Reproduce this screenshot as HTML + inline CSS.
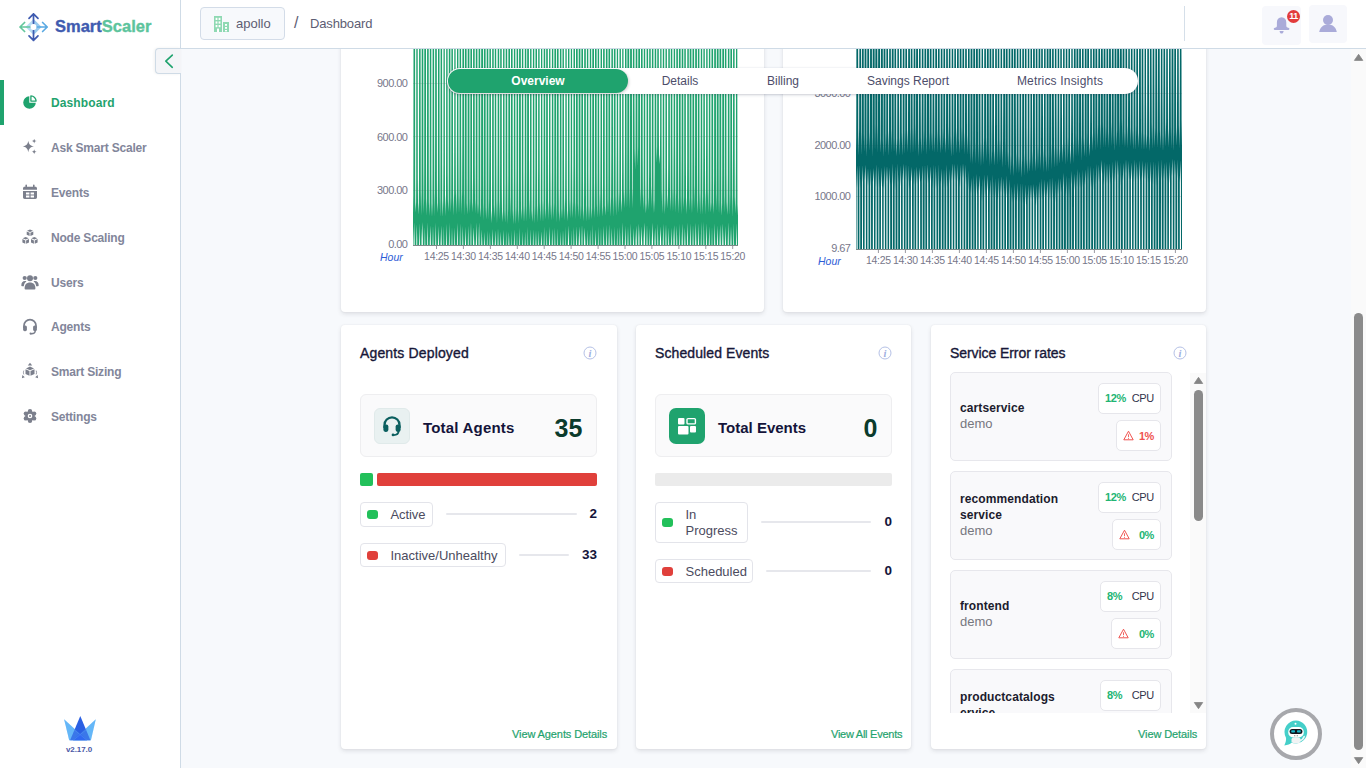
<!DOCTYPE html>
<html lang="en">
<head>
<meta charset="utf-8">
<title>SmartScaler Dashboard</title>
<style>
*{box-sizing:border-box;margin:0;padding:0}
html,body{width:1366px;height:768px;overflow:hidden}
body{position:relative;background:#f7f9fc;font-family:"Liberation Sans",sans-serif;color:#1a1a3a;font-size:13px}
.abs{position:absolute}
.t{position:absolute;white-space:nowrap;line-height:1}
/* sidebar */
#side{position:absolute;left:0;top:0;width:181px;height:768px;background:#fff;border-right:1px solid #cfdbe6;z-index:5}
#hdr{position:absolute;left:181px;top:0;width:1185px;height:49px;background:#fff;border-bottom:1px solid #cfdbe6;z-index:6}
.nav{position:absolute;left:51px;font-size:12px;font-weight:bold;color:#82869a;white-space:nowrap;line-height:16px;letter-spacing:-.2px}
.nav.act{color:#1fa36e}
.card{position:absolute;background:#fff;border-radius:4px;box-shadow:0 2px 4px rgba(50,50,60,.13),0 0 2px rgba(50,50,60,.07)}
.ttl{position:absolute;font-size:14px;color:#171738;-webkit-text-stroke:.35px #171738;white-space:nowrap;line-height:16px;letter-spacing:.1px}
.lnk{position:absolute;font-size:11px;color:#1fa36e;-webkit-text-stroke:.2px #1fa36e;white-space:nowrap;line-height:12px}
.ylab{position:absolute;font-size:11px;letter-spacing:-.55px;color:#77778a;text-align:right;width:60px;line-height:12px;white-space:nowrap}
.xlab{position:absolute;font-size:10.500px;color:#77778a;text-align:center;width:40px;line-height:12px;white-space:nowrap;letter-spacing:-.3px}
.hour{position:absolute;font-size:10.5px;font-style:italic;color:#2c5bd6;line-height:12px}

.tab{top:75px;font-size:12px;text-align:center;color:#4d4d6a;z-index:4}
.tbox{position:absolute;width:237px;height:63px;background:#fafafb;border:1px solid #eeeef0;border-radius:6px}
.pill{position:absolute;height:24px;border:1px solid #e3e4ea;border-radius:4px;background:#fff}
.pill i{position:absolute;left:6px;top:6.500px;width:11px;height:9px;border-radius:3px}
.pill span{position:absolute;left:29.500px;top:5px;font-size:13px;line-height:13px;color:#4b4b5e;white-space:nowrap}
.ln{position:absolute;height:2px;background:#e6e7ec;border-radius:1px}
.val{position:absolute;width:40px;text-align:right;font-size:13.500px;font-weight:bold;color:#14143a;line-height:16px}

.si{position:absolute;left:0;width:222px;height:89px;background:#f9f9fb;border:1px solid #e7e7ec;border-radius:5px}
.sn{position:absolute;left:9px;font-size:12px;font-weight:bold;color:#1c1c2e;line-height:14px;white-space:nowrap;letter-spacing:.1px}
.sd{position:absolute;left:9px;font-size:13px;color:#77777f;line-height:14px}
.bd{position:absolute;height:31px;background:#fff;border:1px solid #e6e6eb;border-radius:5px}
.bd b,.bd span{position:absolute;top:8px;font-size:11px;line-height:12px;letter-spacing:-.4px}
.bd span{color:#33334a;letter-spacing:-.3px}
.bd b.g{color:#22b573}
</style>
</head>
<body>

<!-- MAIN -->
<div id="main">
  <!-- chart cards -->
  <div class="card" id="c1" style="left:341px;top:-10px;width:423px;height:322px"></div>
  <div class="card" id="c2" style="left:783px;top:-10px;width:423px;height:322px"></div>
  <!-- bottom cards -->
  <div class="card" id="c3" style="left:341px;top:325px;width:276px;height:424px"></div>
  <div class="card" id="c4" style="left:635.830px;top:325px;width:275.330px;height:424px"></div>
  <div class="card" id="c5" style="left:930.670px;top:325px;width:275.330px;height:424px"></div>
  <!--CHART1-->
<svg class="abs" style="left:0;top:0" width="1366" height="330" viewBox="0 0 1366 330">
<defs><clipPath id="cp1"><rect x="413" y="48" width="325" height="197"/></clipPath></defs>
<line x1="413" x2="738" y1="83.5" y2="83.5" stroke="#e9e9ec" stroke-width="1"/>
<line x1="413" x2="738" y1="136.5" y2="136.5" stroke="#e9e9ec" stroke-width="1"/>
<line x1="413" x2="738" y1="190.5" y2="190.5" stroke="#e9e9ec" stroke-width="1"/>
<g clip-path="url(#cp1)">
<polygon points="410.0,43.0 412.5,43.0 412.6,152.8 412.7,194.8 413.0,213.9 413.3,194.8 413.4,152.8 413.5,43.0 415.1,43.0 415.2,178.7 415.3,201.8 415.7,212.3 416.1,201.8 416.2,178.7 416.3,43.0 417.7,43.0 417.8,177.0 418.0,202.8 418.4,214.5 418.8,202.8 419.0,177.0 419.1,43.0 420.6,43.0 420.7,139.7 420.8,191.8 421.1,215.5 421.5,191.8 421.6,139.7 421.7,43.0 423.3,43.0 423.4,167.0 423.6,198.5 423.8,212.9 424.1,198.5 424.2,167.0 424.3,43.0 426.0,43.0 426.1,159.3 426.2,198.2 426.5,215.8 426.9,198.2 427.0,159.3 427.1,43.0 428.7,43.0 428.8,170.0 428.9,201.7 429.2,216.1 429.6,201.7 429.7,170.0 429.8,43.0 431.3,43.0 431.4,173.8 431.6,203.3 432.0,216.8 432.4,203.3 432.5,173.8 432.6,43.0 434.1,43.0 434.2,140.5 434.4,192.7 434.7,216.4 435.0,192.7 435.1,140.5 435.2,43.0 436.8,43.0 436.9,179.2 437.0,202.4 437.4,212.9 437.7,202.4 437.9,179.2 438.0,43.0 439.5,43.0 439.6,154.1 439.8,197.5 440.1,217.3 440.4,197.5 440.5,154.1 440.6,43.0 442.1,43.0 442.2,163.8 442.3,200.4 442.8,217.0 443.2,200.4 443.4,163.8 443.5,43.0 444.8,43.0 444.9,147.1 445.0,194.4 445.5,215.9 446.0,194.4 446.1,147.1 446.2,43.0 447.6,43.0 447.7,172.6 447.9,199.8 448.2,212.1 448.6,199.8 448.7,172.6 448.8,43.0 450.4,43.0 450.5,163.3 450.6,197.3 450.9,212.8 451.2,197.3 451.3,163.3 451.4,43.0 452.9,43.0 453.0,146.6 453.2,193.8 453.6,215.3 454.1,193.8 454.2,146.6 454.3,43.0 455.6,43.0 455.7,139.2 455.9,190.7 456.3,214.2 456.8,190.7 456.9,139.2 457.0,43.0 458.4,43.0 458.5,155.0 458.7,195.2 459.0,213.4 459.4,195.2 459.5,155.0 459.6,43.0 461.1,43.0 461.2,139.5 461.4,190.9 461.8,214.2 462.1,190.9 462.3,139.5 462.4,43.0 464.0,43.0 464.1,143.8 464.2,193.5 464.5,216.1 464.7,193.5 464.8,143.8 464.9,43.0 466.6,43.0 466.7,177.7 466.8,202.9 467.2,214.4 467.5,202.9 467.6,177.7 467.7,43.0 469.4,43.0 469.5,166.0 469.6,198.5 469.9,213.3 470.2,198.5 470.3,166.0 470.4,43.0 472.0,43.0 472.1,179.5 472.3,202.3 472.6,212.6 472.9,202.3 473.0,179.5 473.1,43.0 474.7,43.0 474.8,165.2 475.0,198.4 475.3,213.5 475.6,198.4 475.7,165.2 475.8,43.0 477.4,43.0 477.5,178.9 477.6,203.6 478.0,214.8 478.4,203.6 478.5,178.9 478.6,43.0 480.2,43.0 480.3,185.0 480.4,207.7 480.7,218.0 481.0,207.7 481.1,185.0 481.2,43.0 483.0,43.0 483.1,164.7 483.2,203.0 483.4,220.4 483.7,203.0 483.8,164.7 483.9,43.0 485.6,43.0 485.7,180.1 485.8,207.3 486.1,219.6 486.5,207.3 486.6,180.1 486.7,43.0 488.3,43.0 488.4,151.7 488.5,198.7 488.8,220.1 489.1,198.7 489.3,151.7 489.4,43.0 490.9,43.0 491.0,180.9 491.1,209.9 491.5,223.0 492.0,209.9 492.1,180.9 492.2,43.0 493.7,43.0 493.8,174.7 493.9,204.7 494.2,218.3 494.6,204.7 494.7,174.7 494.8,43.0 496.2,43.0 496.3,149.0 496.5,200.5 497.0,223.8 497.4,200.5 497.6,149.0 497.7,43.0 499.2,43.0 499.3,159.5 499.4,200.7 499.7,219.4 500.0,200.7 500.1,159.5 500.2,43.0 501.7,43.0 501.8,186.4 502.0,211.0 502.4,222.2 502.8,211.0 503.0,186.4 503.1,43.0 504.5,43.0 504.6,182.8 504.7,210.3 505.1,222.8 505.4,210.3 505.6,182.8 505.7,43.0 507.2,43.0 507.3,174.2 507.5,208.6 507.8,224.2 508.1,208.6 508.3,174.2 508.4,43.0 510.0,43.0 510.1,146.6 510.2,196.5 510.5,219.2 510.8,196.5 510.9,146.6 511.0,43.0 512.6,43.0 512.7,176.6 512.8,209.4 513.2,224.3 513.6,209.4 513.8,176.6 513.9,43.0 515.3,43.0 515.4,168.7 515.5,207.0 515.9,224.3 516.3,207.0 516.5,168.7 516.6,43.0 518.1,43.0 518.2,180.2 518.3,210.0 518.6,223.5 518.9,210.0 519.0,180.2 519.1,43.0 520.8,43.0 520.9,182.3 521.0,208.3 521.3,220.1 521.7,208.3 521.8,182.3 521.9,43.0 523.3,43.0 523.4,171.3 523.6,206.2 524.0,222.1 524.5,206.2 524.7,171.3 524.8,43.0 526.3,43.0 526.4,170.1 526.5,205.6 526.8,221.8 527.0,205.6 527.1,170.1 527.2,43.0 528.9,43.0 529.0,155.3 529.1,199.6 529.5,219.7 529.8,199.6 530.0,155.3 530.1,43.0 531.5,43.0 531.6,185.3 531.7,210.6 532.2,222.1 532.6,210.6 532.8,185.3 532.9,43.0 534.3,43.0 534.4,166.3 534.5,205.6 534.9,223.4 535.2,205.6 535.4,166.3 535.5,43.0 537.0,43.0 537.1,167.6 537.2,205.3 537.6,222.5 537.9,205.3 538.1,167.6 538.2,43.0 539.6,43.0 539.7,158.4 539.8,202.0 540.3,221.7 540.7,202.0 540.9,158.4 541.0,43.0 542.3,43.0 542.4,152.6 542.5,200.5 543.0,222.3 543.5,200.5 543.6,152.6 543.7,43.0 545.2,43.0 545.3,184.1 545.4,208.4 545.7,219.4 546.0,208.4 546.1,184.1 546.2,43.0 547.8,43.0 547.9,158.3 548.0,200.7 548.4,219.9 548.8,200.7 549.0,158.3 549.1,43.0 550.4,43.0 550.5,170.3 550.7,204.6 551.1,220.1 551.6,204.6 551.8,170.3 551.9,43.0 553.3,43.0 553.4,164.5 553.5,202.4 553.8,219.6 554.2,202.4 554.3,164.5 554.4,43.0 556.1,43.0 556.2,166.0 556.3,205.1 556.5,222.8 556.8,205.1 556.9,166.0 557.0,43.0 558.6,43.0 558.7,187.2 558.9,211.2 559.2,222.1 559.6,211.2 559.8,187.2 559.9,43.0 561.4,43.0 561.5,185.0 561.6,208.3 562.0,218.8 562.3,208.3 562.4,185.0 562.5,43.0 563.9,43.0 564.0,151.9 564.2,199.1 564.7,220.6 565.1,199.1 565.3,151.9 565.4,43.0 566.7,43.0 566.8,185.3 567.0,210.1 567.4,221.3 567.8,210.1 567.9,185.3 568.0,43.0 569.4,43.0 569.5,157.7 569.6,199.3 570.1,218.2 570.5,199.3 570.7,157.7 570.8,43.0 572.1,43.0 572.2,165.6 572.4,201.6 572.8,218.0 573.2,201.6 573.4,165.6 573.5,43.0 575.0,43.0 575.1,163.4 575.2,201.6 575.5,219.0 575.8,201.6 575.9,163.4 576.0,43.0 577.7,43.0 577.8,171.6 577.9,203.2 578.2,217.6 578.5,203.2 578.6,171.6 578.7,43.0 580.4,43.0 580.5,172.6 580.6,205.2 580.9,220.1 581.2,205.2 581.3,172.6 581.4,43.0 583.0,43.0 583.1,180.9 583.3,208.7 583.6,221.3 584.0,208.7 584.1,180.9 584.2,43.0 585.8,43.0 585.9,167.5 586.0,204.8 586.3,221.7 586.7,204.8 586.8,167.5 586.9,43.0 588.3,43.0 588.4,173.4 588.6,206.0 589.0,220.8 589.5,206.0 589.7,173.4 589.8,43.0 591.2,43.0 591.3,184.5 591.4,208.1 591.8,218.9 592.1,208.1 592.2,184.5 592.3,43.0 594.0,43.0 594.1,182.1 594.2,206.7 594.5,217.9 594.7,206.7 594.9,182.1 595.0,43.0 596.6,43.0 596.7,172.7 596.9,203.8 597.2,217.9 597.5,203.8 597.6,172.7 597.7,43.0 599.1,43.0 599.2,142.0 599.4,194.0 599.9,217.6 600.3,194.0 600.5,142.0 600.6,43.0 602.0,43.0 602.1,184.9 602.3,206.9 602.6,217.0 602.9,206.9 603.0,184.9 603.1,43.0 604.7,43.0 604.8,183.1 604.9,205.3 605.3,215.4 605.7,205.3 605.8,183.1 605.9,43.0 607.5,43.0 607.6,167.8 607.7,199.2 608.0,213.5 608.3,199.2 608.4,167.8 608.5,43.0 610.1,43.0 610.2,152.7 610.3,196.7 610.7,216.8 611.1,196.7 611.3,152.7 611.4,43.0 612.9,43.0 613.0,152.8 613.1,197.1 613.4,217.2 613.7,197.1 613.8,152.8 613.9,43.0 615.5,43.0 615.6,150.8 615.7,195.4 616.1,215.7 616.5,195.4 616.7,150.8 616.8,43.0 618.1,43.0 618.2,144.4 618.4,191.2 618.8,212.4 619.3,191.2 619.4,144.4 619.5,43.0 620.9,43.0 621.0,170.2 621.1,199.2 621.5,212.5 621.9,199.2 622.1,170.2 622.2,43.0 623.5,43.0 623.6,150.8 623.8,190.0 624.2,207.9 624.7,190.0 624.9,150.8 625.0,43.0 626.5,43.0 626.6,141.3 626.7,187.9 627.0,209.0 627.2,187.9 627.3,141.3 627.4,43.0 629.2,43.0 629.3,143.9 629.4,188.6 629.7,208.9 629.9,188.6 630.0,143.9 630.1,43.0 631.9,43.0 632.0,143.6 632.1,188.3 632.4,208.7 632.7,188.3 632.8,143.6 632.9,43.0 634.4,43.0 634.5,103.4 634.7,149.0 635.1,169.8 635.5,149.0 635.6,103.4 635.7,43.0 637.3,43.0 637.4,101.3 637.5,146.2 637.8,166.6 638.1,146.2 638.2,101.3 638.3,43.0 640.0,43.0 640.1,145.3 640.2,188.0 640.5,207.4 640.8,188.0 640.9,145.3 641.0,43.0 642.6,43.0 642.7,157.4 642.9,193.8 643.2,210.3 643.6,193.8 643.7,157.4 643.8,43.0 645.2,43.0 645.3,180.5 645.5,203.0 645.9,213.2 646.4,203.0 646.5,180.5 646.6,43.0 648.1,43.0 648.2,168.8 648.3,197.3 648.6,210.2 648.9,197.3 649.1,168.8 649.2,43.0 650.7,43.0 650.8,133.9 651.0,185.2 651.3,208.6 651.7,185.2 651.8,133.9 651.9,43.0 653.4,43.0 653.5,170.8 653.6,200.0 654.0,213.2 654.4,200.0 654.6,170.8 654.7,43.0 656.2,43.0 656.3,110.7 656.4,146.6 656.8,162.9 657.1,146.6 657.2,110.7 657.3,43.0 658.8,43.0 658.9,132.1 659.0,154.2 659.5,164.2 659.9,154.2 660.1,132.1 660.2,43.0 661.5,43.0 661.6,141.2 661.8,191.0 662.2,213.6 662.6,191.0 662.7,141.2 662.8,43.0 664.2,43.0 664.3,165.9 664.5,199.0 664.9,214.1 665.3,199.0 665.4,165.9 665.5,43.0 666.9,43.0 667.0,164.0 667.2,194.8 667.6,208.8 668.0,194.8 668.2,164.0 668.3,43.0 669.8,43.0 669.9,162.6 670.0,196.1 670.3,211.3 670.6,196.1 670.7,162.6 670.8,43.0 672.3,43.0 672.4,137.9 672.6,188.9 673.0,212.1 673.4,188.9 673.6,137.9 673.7,43.0 675.1,43.0 675.2,147.0 675.4,192.2 675.7,212.8 676.1,192.2 676.2,147.0 676.3,43.0 677.9,43.0 678.0,160.8 678.1,197.4 678.4,214.0 678.7,197.4 678.8,160.8 678.9,43.0 680.6,43.0 680.7,153.0 680.8,195.2 681.1,214.4 681.4,195.2 681.6,153.0 681.7,43.0 683.3,43.0 683.4,168.3 683.5,196.7 683.8,209.6 684.1,196.7 684.2,168.3 684.3,43.0 685.8,43.0 685.9,161.9 686.1,197.8 686.5,214.1 687.0,197.8 687.2,161.9 687.3,43.0 688.8,43.0 688.9,168.1 689.0,197.4 689.2,210.8 689.5,197.4 689.6,168.1 689.7,43.0 691.4,43.0 691.5,162.7 691.6,197.5 692.0,213.3 692.3,197.5 692.4,162.7 692.5,43.0 694.1,43.0 694.2,133.9 694.4,185.7 694.7,209.2 695.0,185.7 695.1,133.9 695.2,43.0 696.9,43.0 697.0,170.0 697.1,200.3 697.4,214.1 697.7,200.3 697.8,170.0 697.9,43.0 699.4,43.0 699.5,143.6 699.6,192.5 700.1,214.7 700.5,192.5 700.7,143.6 700.8,43.0 702.2,43.0 702.3,156.3 702.4,196.4 702.8,214.6 703.1,196.4 703.3,156.3 703.4,43.0 704.8,43.0 704.9,138.8 705.1,190.8 705.5,214.4 705.9,190.8 706.1,138.8 706.2,43.0 707.6,43.0 707.7,138.6 707.8,189.6 708.2,212.8 708.6,189.6 708.8,138.6 708.9,43.0 710.3,43.0 710.4,178.8 710.5,202.1 710.9,212.6 711.3,202.1 711.4,178.8 711.5,43.0 713.1,43.0 713.2,176.2 713.3,202.2 713.6,213.9 713.9,202.2 714.1,176.2 714.2,43.0 715.9,43.0 716.0,155.5 716.1,193.6 716.3,211.0 716.6,193.6 716.7,155.5 716.8,43.0 718.6,43.0 718.7,168.6 718.8,199.9 719.0,214.1 719.3,199.9 719.4,168.6 719.5,43.0 721.2,43.0 721.3,173.5 721.4,202.7 721.8,216.0 722.1,202.7 722.2,173.5 722.3,43.0 724.0,43.0 724.1,158.5 724.2,195.8 724.5,212.8 724.7,195.8 724.8,158.5 724.9,43.0 726.4,43.0 726.5,173.0 726.7,202.0 727.2,215.1 727.6,202.0 727.8,173.0 727.9,43.0 729.4,43.0 729.5,147.7 729.6,194.3 729.9,215.5 730.2,194.3 730.3,147.7 730.4,43.0 732.0,43.0 732.1,148.7 732.3,195.9 732.6,217.4 732.9,195.9 733.0,148.7 733.1,43.0 734.6,43.0 734.7,159.3 734.8,196.6 735.3,213.6 735.7,196.6 735.9,159.3 736.0,43.0 737.3,43.0 737.4,177.4 737.5,203.9 738.0,216.0 738.5,203.9 738.6,177.4 738.7,43.0 741.0,43.0 741.0,250.0 739.6,250.0 739.5,248.0 739.1,224.4 738.7,248.0 738.6,250.0 736.9,250.0 736.8,241.3 736.4,223.1 736.0,241.3 735.9,250.0 734.2,250.0 734.1,245.0 733.7,223.4 733.3,245.0 733.2,250.0 731.5,250.0 731.5,242.5 731.0,226.4 730.5,242.5 730.4,250.0 728.8,250.0 728.7,240.4 728.3,222.2 727.8,240.4 727.7,250.0 726.1,250.0 726.0,242.6 725.5,226.0 725.1,242.6 725.0,250.0 723.5,250.0 723.5,244.5 722.8,223.5 722.2,244.5 722.1,250.0 720.8,250.0 720.8,245.2 720.1,224.8 719.5,245.2 719.4,250.0 718.0,250.0 717.9,241.7 717.4,225.5 717.0,241.7 716.9,250.0 715.3,250.0 715.2,244.5 714.7,223.5 714.2,244.5 714.1,250.0 712.5,250.0 712.4,248.0 712.0,226.7 711.6,248.0 711.5,250.0 709.9,250.0 709.8,248.0 709.3,226.3 708.7,248.0 708.7,250.0 707.0,250.0 707.0,239.0 706.6,223.5 706.2,239.0 706.1,250.0 704.4,250.0 704.3,245.3 703.9,222.0 703.4,245.3 703.3,250.0 701.6,250.0 701.5,243.2 701.2,222.1 700.8,243.2 700.7,250.0 699.0,250.0 698.9,241.9 698.5,223.5 698.0,241.9 697.9,250.0 696.3,250.0 696.3,243.1 695.8,222.8 695.2,243.1 695.2,250.0 693.6,250.0 693.5,242.5 693.0,225.1 692.6,242.5 692.5,250.0 690.9,250.0 690.9,246.4 690.3,223.6 689.8,246.4 689.7,250.0 688.1,250.0 688.0,237.7 687.6,222.8 687.2,237.7 687.1,250.0 685.5,250.0 685.4,243.6 684.9,227.4 684.4,243.6 684.3,250.0 682.8,250.0 682.7,241.7 682.2,223.8 681.7,241.7 681.6,250.0 680.0,250.0 679.9,245.5 679.5,224.1 679.1,245.5 679.0,250.0 677.3,250.0 677.2,240.4 676.8,225.9 676.4,240.4 676.3,250.0 674.7,250.0 674.6,239.8 674.1,225.3 673.5,239.8 673.4,250.0 672.1,250.0 671.9,248.0 671.4,227.7 670.8,248.0 670.7,250.0 669.2,250.0 669.1,244.3 668.7,227.6 668.2,244.3 668.2,250.0 666.5,250.0 666.4,239.1 666.0,224.6 665.5,239.1 665.5,250.0 663.8,250.0 663.7,241.7 663.3,223.7 662.8,241.7 662.7,250.0 661.2,250.0 661.1,241.7 660.5,226.5 659.9,241.7 659.9,250.0 658.3,250.0 658.2,241.3 657.8,223.8 657.4,241.3 657.4,250.0 655.7,250.0 655.6,241.6 655.1,227.4 654.6,241.6 654.6,250.0 653.1,250.0 653.0,241.9 652.4,222.8 651.8,241.9 651.7,250.0 650.2,250.0 650.1,247.5 649.7,227.7 649.3,247.5 649.2,250.0 647.7,250.0 647.6,248.0 647.0,224.8 646.4,248.0 646.3,250.0 645.0,250.0 644.9,238.7 644.3,222.7 643.7,238.7 643.6,250.0 642.2,250.0 642.1,243.1 641.6,226.2 641.0,243.1 641.0,250.0 639.5,250.0 639.4,238.0 638.9,223.8 638.4,238.0 638.3,250.0 636.8,250.0 636.7,240.5 636.2,225.7 635.6,240.5 635.5,250.0 634.0,250.0 634.0,245.7 633.5,227.9 633.0,245.7 632.9,250.0 631.2,250.0 631.1,240.2 630.8,223.5 630.4,240.2 630.3,250.0 628.6,250.0 628.5,245.8 628.0,226.5 627.5,245.8 627.5,250.0 625.9,250.0 625.9,246.6 625.3,225.8 624.8,246.6 624.7,250.0 623.1,250.0 623.0,239.8 622.6,222.2 622.2,239.8 622.2,250.0 620.5,250.0 620.4,248.0 619.9,227.0 619.4,248.0 619.3,250.0 617.7,250.0 617.6,246.4 617.2,227.2 616.8,246.4 616.7,250.0 614.9,250.0 614.9,248.0 614.5,226.4 614.1,248.0 614.1,250.0 612.3,250.0 612.3,245.4 611.8,228.1 611.3,245.4 611.2,250.0 609.7,250.0 609.6,243.8 609.1,224.5 608.6,243.8 608.5,250.0 606.8,250.0 606.8,242.9 606.4,224.9 606.0,242.9 605.9,250.0 604.2,250.0 604.2,245.0 603.7,225.9 603.2,245.0 603.1,250.0 601.5,250.0 601.3,248.0 601.0,227.2 600.6,248.0 600.5,250.0 598.7,250.0 598.6,245.3 598.3,226.8 597.9,245.3 597.8,250.0 596.2,250.0 596.1,248.0 595.5,229.2 595.0,248.0 594.9,250.0 593.3,250.0 593.2,246.5 592.8,225.1 592.5,246.5 592.4,250.0 590.8,250.0 590.6,248.0 590.1,229.4 589.6,248.0 589.5,250.0 588.0,250.0 587.9,248.0 587.4,229.5 587.0,248.0 586.9,250.0 585.4,250.0 585.3,242.5 584.7,227.4 584.1,242.5 584.0,250.0 582.5,250.0 582.4,239.0 582.0,224.8 581.6,239.0 581.5,250.0 579.9,250.0 579.9,243.5 579.3,226.6 578.7,243.5 578.6,250.0 577.0,250.0 577.0,241.9 576.6,226.3 576.2,241.9 576.1,250.0 574.5,250.0 574.3,248.0 573.9,227.0 573.4,248.0 573.3,250.0 571.6,250.0 571.5,248.0 571.2,229.9 570.9,248.0 570.7,250.0 569.1,250.0 569.0,243.8 568.5,225.6 567.9,243.8 567.8,250.0 566.2,250.0 566.1,248.0 565.8,226.9 565.4,248.0 565.3,250.0 563.5,250.0 563.5,245.4 563.0,230.1 562.6,245.4 562.5,250.0 561.0,250.0 560.7,248.0 560.3,231.4 559.9,248.0 559.7,250.0 558.1,250.0 558.0,245.6 557.6,228.3 557.3,245.6 557.2,250.0 555.4,250.0 555.3,245.0 554.9,227.8 554.5,245.0 554.4,250.0 552.9,250.0 552.8,248.0 552.2,228.8 551.7,248.0 551.5,250.0 550.2,250.0 550.1,248.0 549.5,226.8 548.9,248.0 548.8,250.0 547.5,250.0 547.2,248.0 546.8,230.0 546.3,248.0 546.1,250.0 544.5,250.0 544.5,245.2 544.1,226.8 543.7,245.2 543.6,250.0 542.1,250.0 542.0,247.9 541.4,231.3 540.7,247.9 540.7,250.0 539.2,250.0 539.1,248.0 538.7,230.2 538.2,248.0 538.1,250.0 536.7,250.0 536.5,248.0 536.0,230.6 535.4,248.0 535.3,250.0 533.7,250.0 533.7,246.1 533.2,229.4 532.8,246.1 532.8,250.0 531.1,250.0 531.0,248.0 530.5,229.3 530.1,248.0 530.0,250.0 528.3,250.0 528.2,248.0 527.8,227.1 527.5,248.0 527.4,250.0 525.7,250.0 525.6,248.0 525.1,231.5 524.7,248.0 524.5,250.0 522.9,250.0 522.8,248.0 522.4,231.5 522.0,248.0 521.9,250.0 520.2,250.0 520.1,247.6 519.7,227.8 519.3,247.6 519.2,250.0 517.6,250.0 517.3,248.0 517.0,231.6 516.7,248.0 516.4,250.0 514.8,250.0 514.7,243.4 514.3,229.3 513.9,243.4 513.8,250.0 512.1,250.0 511.9,248.0 511.6,230.8 511.3,248.0 511.1,250.0 509.5,250.0 509.4,247.4 508.9,231.7 508.3,247.4 508.2,250.0 506.7,250.0 506.5,248.0 506.2,230.7 505.8,248.0 505.6,250.0 504.2,250.0 504.0,248.0 503.5,230.0 502.9,248.0 502.8,250.0 501.4,250.0 501.3,248.0 500.8,231.4 500.2,248.0 500.1,250.0 498.5,250.0 498.5,244.5 498.0,228.2 497.6,244.5 497.6,250.0 496.0,250.0 495.9,248.0 495.3,230.2 494.7,248.0 494.6,250.0 493.2,250.0 493.1,243.4 492.6,229.1 492.2,243.4 492.1,250.0 490.6,250.0 490.4,248.0 489.9,231.9 489.5,248.0 489.2,250.0 487.8,250.0 487.6,248.0 487.2,230.6 486.8,248.0 486.6,250.0 485.2,250.0 485.0,248.0 484.5,231.9 484.0,248.0 483.8,250.0 482.4,250.0 482.3,245.0 481.8,229.5 481.3,245.0 481.2,250.0 479.6,250.0 479.5,239.3 479.1,222.6 478.6,239.3 478.6,250.0 477.1,250.0 477.0,246.7 476.4,222.7 475.8,246.7 475.7,250.0 474.3,250.0 474.2,242.7 473.7,227.2 473.1,242.7 473.1,250.0 471.4,250.0 471.3,237.8 471.0,222.3 470.6,237.8 470.5,250.0 468.7,250.0 468.6,240.5 468.2,225.8 467.9,240.5 467.8,250.0 466.2,250.0 466.1,248.0 465.5,226.7 464.9,248.0 464.9,250.0 463.4,250.0 463.3,246.3 462.8,226.1 462.3,246.3 462.3,250.0 460.6,250.0 460.5,241.8 460.1,223.6 459.8,241.8 459.7,250.0 457.9,250.0 457.8,239.2 457.4,222.9 457.0,239.2 456.9,250.0 455.2,250.0 455.1,245.3 454.7,227.2 454.3,245.3 454.2,250.0 452.4,250.0 452.4,245.7 452.0,227.2 451.6,245.7 451.6,250.0 449.7,250.0 449.7,244.4 449.3,222.7 448.9,244.4 448.8,250.0 447.1,250.0 447.0,244.4 446.6,223.7 446.1,244.4 446.0,250.0 444.3,250.0 444.2,247.0 443.9,226.0 443.5,247.0 443.4,250.0 441.8,250.0 441.7,244.1 441.2,225.6 440.6,244.1 440.6,250.0 439.1,250.0 439.0,245.7 438.5,226.0 437.9,245.7 437.8,250.0 436.3,250.0 436.2,244.3 435.8,222.7 435.3,244.3 435.2,250.0 433.6,250.0 433.5,248.0 433.0,225.4 432.5,248.0 432.5,250.0 430.9,250.0 430.8,242.5 430.3,225.5 429.8,242.5 429.8,250.0 428.1,250.0 428.0,238.4 427.6,222.4 427.3,238.4 427.2,250.0 425.4,250.0 425.3,246.7 424.9,226.9 424.5,246.7 424.4,250.0 422.9,250.0 422.8,239.2 422.2,222.3 421.6,239.2 421.5,250.0 420.1,250.0 420.0,246.8 419.5,223.3 419.0,246.8 418.9,250.0 417.2,250.0 417.2,239.5 416.8,224.6 416.4,239.5 416.3,250.0 414.7,250.0 414.6,240.1 414.1,222.4 413.6,240.1 413.5,250.0 410.0,250.0" fill="#1fa36e"/>
</g>
<line x1="413" x2="738" y1="83.5" y2="83.5" stroke="#333" stroke-opacity=".03" stroke-width="1"/>
<line x1="413" x2="738" y1="136.5" y2="136.5" stroke="#333" stroke-opacity=".03" stroke-width="1"/>
<line x1="413" x2="738" y1="190.5" y2="190.5" stroke="#333" stroke-opacity=".03" stroke-width="1"/>
<line x1="413" x2="738" y1="245.5" y2="245.5" stroke="#7f8a8a" stroke-width="1"/>
<line x1="436.5" x2="436.5" y1="246" y2="249" stroke="#9a9aa2" stroke-width="1"/>
<line x1="463.4" x2="463.4" y1="246" y2="249" stroke="#9a9aa2" stroke-width="1"/>
<line x1="490.4" x2="490.4" y1="246" y2="249" stroke="#9a9aa2" stroke-width="1"/>
<line x1="517.3" x2="517.3" y1="246" y2="249" stroke="#9a9aa2" stroke-width="1"/>
<line x1="544.2" x2="544.2" y1="246" y2="249" stroke="#9a9aa2" stroke-width="1"/>
<line x1="571.1" x2="571.1" y1="246" y2="249" stroke="#9a9aa2" stroke-width="1"/>
<line x1="598.1" x2="598.1" y1="246" y2="249" stroke="#9a9aa2" stroke-width="1"/>
<line x1="625.0" x2="625.0" y1="246" y2="249" stroke="#9a9aa2" stroke-width="1"/>
<line x1="651.9" x2="651.9" y1="246" y2="249" stroke="#9a9aa2" stroke-width="1"/>
<line x1="678.9" x2="678.9" y1="246" y2="249" stroke="#9a9aa2" stroke-width="1"/>
<line x1="705.8" x2="705.8" y1="246" y2="249" stroke="#9a9aa2" stroke-width="1"/>
<line x1="732.7" x2="732.7" y1="246" y2="249" stroke="#9a9aa2" stroke-width="1"/>
</svg>
<div class="ylab" style="left:347.4px;top:77.3px">900.00</div>
<div class="ylab" style="left:347.4px;top:130.6px">600.00</div>
<div class="ylab" style="left:347.4px;top:183.9px">300.00</div>
<div class="ylab" style="left:347.4px;top:237.7px">0.00</div>
<div class="xlab" style="left:416.5px;top:249.9px">14:25</div>
<div class="xlab" style="left:443.4px;top:249.9px">14:30</div>
<div class="xlab" style="left:470.4px;top:249.9px">14:35</div>
<div class="xlab" style="left:497.3px;top:249.9px">14:40</div>
<div class="xlab" style="left:524.2px;top:249.9px">14:45</div>
<div class="xlab" style="left:551.1px;top:249.9px">14:50</div>
<div class="xlab" style="left:578.1px;top:249.9px">14:55</div>
<div class="xlab" style="left:605.0px;top:249.9px">15:00</div>
<div class="xlab" style="left:631.9px;top:249.9px">15:05</div>
<div class="xlab" style="left:658.9px;top:249.9px">15:10</div>
<div class="xlab" style="left:685.8px;top:249.9px">15:15</div>
<div class="xlab" style="left:712.7px;top:249.9px">15:20</div>
<div class="hour" style="left:380px;top:250.6px">Hour</div>
<!--/CHART1-->
  <!--CHART2-->
<svg class="abs" style="left:0;top:0" width="1366" height="330" viewBox="0 0 1366 330">
<defs><clipPath id="cp2"><rect x="856" y="48" width="326" height="201"/></clipPath></defs>
<line x1="856" x2="1182" y1="93.5" y2="93.5" stroke="#e9e9ec" stroke-width="1"/>
<line x1="856" x2="1182" y1="145.5" y2="145.5" stroke="#e9e9ec" stroke-width="1"/>
<line x1="856" x2="1182" y1="196.5" y2="196.5" stroke="#e9e9ec" stroke-width="1"/>
<g clip-path="url(#cp2)">
<polygon points="853.0,43.0 855.6,43.0 855.7,104.4 855.8,137.0 856.0,151.9 856.2,137.0 856.3,104.4 856.4,43.0 858.1,43.0 858.2,68.9 858.3,128.4 858.7,155.4 859.1,128.4 859.3,68.9 859.4,43.0 861.0,43.0 861.1,80.9 861.2,132.2 861.4,155.5 861.7,132.2 861.8,80.9 861.9,43.0 863.7,43.0 863.8,94.7 863.9,134.1 864.1,152.0 864.4,134.1 864.5,94.7 864.6,43.0 866.4,43.0 866.5,96.0 866.6,137.8 866.9,156.8 867.1,137.8 867.2,96.0 867.3,43.0 869.1,43.0 869.2,89.8 869.3,132.1 869.6,151.3 869.9,132.1 870.0,89.8 870.1,43.0 871.9,43.0 872.0,93.2 872.1,136.6 872.3,156.4 872.5,136.6 872.6,93.2 872.7,43.0 874.6,43.0 874.7,65.2 874.8,124.3 875.0,151.2 875.3,124.3 875.3,65.2 875.4,43.0 877.3,43.0 877.4,65.3 877.5,125.6 877.7,153.0 878.0,125.6 878.1,65.3 878.2,43.0 880.0,43.0 880.1,107.9 880.2,138.8 880.5,152.9 880.7,138.8 880.8,107.9 880.9,43.0 882.8,43.0 882.9,101.4 882.9,139.4 883.2,156.7 883.4,139.4 883.5,101.4 883.6,43.0 885.4,43.0 885.5,89.3 885.6,133.3 885.9,153.3 886.2,133.3 886.3,89.3 886.4,43.0 888.0,43.0 888.1,74.2 888.2,130.3 888.6,155.8 889.0,130.3 889.1,74.2 889.2,43.0 890.8,43.0 890.9,73.1 891.0,128.0 891.3,152.9 891.6,128.0 891.7,73.1 891.8,43.0 893.6,43.0 893.7,106.2 893.8,138.0 894.0,152.5 894.3,138.0 894.4,106.2 894.5,43.0 896.1,43.0 896.2,99.6 896.3,138.6 896.8,156.3 897.2,138.6 897.3,99.6 897.4,43.0 898.9,43.0 899.0,100.0 899.2,138.0 899.5,155.3 899.8,138.0 899.9,100.0 900.0,43.0 901.6,43.0 901.7,80.9 901.8,132.2 902.2,155.5 902.6,132.2 902.7,80.9 902.8,43.0 904.4,43.0 904.5,76.5 904.6,130.1 904.9,154.4 905.2,130.1 905.3,76.5 905.4,43.0 907.0,43.0 907.1,81.2 907.2,129.8 907.6,151.9 908.0,129.8 908.1,81.2 908.2,43.0 909.9,43.0 910.0,73.0 910.1,128.7 910.3,154.0 910.6,128.7 910.7,73.0 910.8,43.0 912.4,43.0 912.5,71.4 912.7,128.1 913.0,153.8 913.4,128.1 913.6,71.4 913.7,43.0 915.3,43.0 915.4,63.3 915.5,124.1 915.8,151.7 916.0,124.1 916.1,63.3 916.2,43.0 918.0,43.0 918.1,99.8 918.2,138.6 918.5,156.2 918.8,138.6 918.9,99.8 919.0,43.0 920.6,43.0 920.7,100.0 920.9,137.5 921.2,154.6 921.5,137.5 921.7,100.0 921.8,43.0 923.4,43.0 923.5,78.5 923.6,129.4 923.9,152.5 924.2,129.4 924.4,78.5 924.5,43.0 926.2,43.0 926.3,96.3 926.4,136.7 926.6,155.1 926.9,136.7 927.0,96.3 927.1,43.0 928.9,43.0 929.0,88.9 929.1,131.8 929.4,151.4 929.6,131.8 929.7,88.9 929.8,43.0 931.5,43.0 931.6,88.8 931.7,132.2 932.1,152.0 932.4,132.2 932.6,88.8 932.7,43.0 934.2,43.0 934.3,92.1 934.5,133.9 934.8,152.9 935.1,133.9 935.2,92.1 935.3,43.0 937.0,43.0 937.1,75.8 937.2,129.0 937.5,153.2 937.8,129.0 937.9,75.8 938.0,43.0 939.6,43.0 939.7,90.5 939.8,133.9 940.2,153.5 940.6,133.9 940.7,90.5 940.8,43.0 942.4,43.0 942.5,77.6 942.6,128.1 942.9,151.1 943.3,128.1 943.4,77.6 943.5,43.0 945.1,43.0 945.2,101.9 945.3,137.2 945.6,153.2 946.0,137.2 946.1,101.9 946.2,43.0 947.8,43.0 947.9,70.8 948.1,126.4 948.4,151.7 948.7,126.4 948.8,70.8 948.9,43.0 950.4,43.0 950.5,90.2 950.7,135.9 951.1,156.7 951.5,135.9 951.6,90.2 951.7,43.0 953.2,43.0 953.3,74.7 953.5,130.9 953.8,156.4 954.1,130.9 954.3,74.7 954.4,43.0 955.9,43.0 956.0,71.5 956.1,127.8 956.5,153.4 956.9,127.8 957.0,71.5 957.1,43.0 958.7,43.0 958.8,103.8 958.9,138.4 959.2,154.1 959.5,138.4 959.6,103.8 959.7,43.0 961.4,43.0 961.5,72.5 961.6,126.6 962.0,151.2 962.3,126.6 962.4,72.5 962.5,43.0 964.1,43.0 964.2,81.7 964.3,131.8 964.7,154.6 965.0,131.8 965.1,81.7 965.2,43.0 966.8,43.0 966.9,90.0 967.0,134.6 967.4,154.8 967.7,134.6 967.9,90.0 968.0,43.0 969.6,43.0 969.7,84.9 969.8,139.2 970.1,163.9 970.4,139.2 970.5,84.9 970.6,43.0 972.4,43.0 972.5,113.4 972.6,148.1 972.8,163.9 973.1,148.1 973.2,113.4 973.3,43.0 975.1,43.0 975.2,90.9 975.3,141.3 975.5,164.2 975.8,141.3 975.9,90.9 976.0,43.0 977.8,43.0 977.9,96.9 978.0,143.2 978.2,164.3 978.5,143.2 978.6,96.9 978.7,43.0 980.3,43.0 980.4,88.8 980.6,142.2 981.0,166.4 981.4,142.2 981.5,88.8 981.6,43.0 983.0,43.0 983.1,78.5 983.3,137.5 983.7,164.3 984.1,137.5 984.2,78.5 984.3,43.0 985.9,43.0 986.0,83.2 986.1,137.2 986.4,161.8 986.7,137.2 986.8,83.2 986.9,43.0 988.7,43.0 988.8,99.1 988.9,145.4 989.1,166.4 989.4,145.4 989.5,99.1 989.6,43.0 991.3,43.0 991.4,118.2 991.6,150.1 991.8,164.6 992.1,150.1 992.2,118.2 992.3,43.0 993.9,43.0 994.0,113.4 994.2,149.4 994.5,165.7 994.9,149.4 995.1,113.4 995.2,43.0 996.8,43.0 996.9,81.6 997.0,139.3 997.3,165.6 997.6,139.3 997.7,81.6 997.8,43.0 999.3,43.0 999.4,89.4 999.6,139.6 1000.0,162.4 1000.4,139.6 1000.5,89.4 1000.6,43.0 1002.1,43.0 1002.2,106.9 1002.4,148.8 1002.7,167.8 1003.0,148.8 1003.2,106.9 1003.3,43.0 1005.0,43.0 1005.1,84.9 1005.2,140.9 1005.4,166.4 1005.6,140.9 1005.7,84.9 1005.8,43.0 1007.6,43.0 1007.7,110.5 1007.8,150.9 1008.1,169.3 1008.5,150.9 1008.6,110.5 1008.7,43.0 1010.3,43.0 1010.4,108.0 1010.5,154.6 1010.9,175.8 1011.2,154.6 1011.3,108.0 1011.4,43.0 1013.2,43.0 1013.3,131.2 1013.3,162.1 1013.6,176.2 1013.8,162.1 1013.9,131.2 1014.0,43.0 1015.7,43.0 1015.8,102.6 1016.0,151.5 1016.3,173.8 1016.6,151.5 1016.7,102.6 1016.8,43.0 1018.4,43.0 1018.5,117.7 1018.6,156.0 1019.0,173.4 1019.4,156.0 1019.5,117.7 1019.6,43.0 1021.1,43.0 1021.2,115.2 1021.4,158.4 1021.7,178.0 1022.1,158.4 1022.2,115.2 1022.3,43.0 1023.9,43.0 1024.0,102.6 1024.1,153.3 1024.4,176.3 1024.7,153.3 1024.8,102.6 1024.9,43.0 1026.5,43.0 1026.6,127.1 1026.8,159.3 1027.2,173.9 1027.5,159.3 1027.7,127.1 1027.8,43.0 1029.3,43.0 1029.4,126.7 1029.5,157.9 1029.9,172.0 1030.2,157.9 1030.4,126.7 1030.5,43.0 1032.0,43.0 1032.1,104.6 1032.3,151.0 1032.6,172.1 1032.9,151.0 1033.0,104.6 1033.1,43.0 1034.8,43.0 1034.9,125.1 1035.0,157.4 1035.3,172.0 1035.6,157.4 1035.7,125.1 1035.8,43.0 1037.4,43.0 1037.5,91.3 1037.6,145.1 1038.0,169.5 1038.4,145.1 1038.5,91.3 1038.6,43.0 1040.3,43.0 1040.4,114.9 1040.5,152.8 1040.7,170.1 1041.0,152.8 1041.1,114.9 1041.2,43.0 1042.8,43.0 1042.9,95.5 1043.1,148.2 1043.5,172.1 1043.8,148.2 1044.0,95.5 1044.1,43.0 1045.6,43.0 1045.7,115.3 1045.8,154.2 1046.2,172.0 1046.5,154.2 1046.6,115.3 1046.7,43.0 1048.5,43.0 1048.6,115.2 1048.7,154.0 1048.9,171.7 1049.1,154.0 1049.2,115.2 1049.3,43.0 1051.1,43.0 1051.2,85.7 1051.3,143.6 1051.6,169.9 1051.9,143.6 1052.0,85.7 1052.1,43.0 1053.7,43.0 1053.8,93.7 1054.0,145.0 1054.3,168.3 1054.7,145.0 1054.8,93.7 1054.9,43.0 1056.4,43.0 1056.5,103.5 1056.7,147.7 1057.0,167.8 1057.4,147.7 1057.6,103.5 1057.7,43.0 1059.2,43.0 1059.3,115.7 1059.4,148.9 1059.8,164.0 1060.1,148.9 1060.2,115.7 1060.3,43.0 1061.8,43.0 1061.9,102.2 1062.1,143.7 1062.5,162.5 1062.9,143.7 1063.0,102.2 1063.1,43.0 1064.6,43.0 1064.7,89.1 1064.8,141.3 1065.2,165.1 1065.5,141.3 1065.7,89.1 1065.8,43.0 1067.3,43.0 1067.4,80.7 1067.5,136.7 1067.9,162.2 1068.3,136.7 1068.4,80.7 1068.5,43.0 1070.0,43.0 1070.1,115.0 1070.2,149.1 1070.6,164.6 1071.0,149.1 1071.2,115.0 1071.3,43.0 1072.7,43.0 1072.8,90.1 1073.0,140.4 1073.3,163.3 1073.7,140.4 1073.8,90.1 1073.9,43.0 1075.6,43.0 1075.7,79.2 1075.8,133.3 1076.0,157.9 1076.3,133.3 1076.4,79.2 1076.5,43.0 1078.3,43.0 1078.4,99.1 1078.5,138.6 1078.8,156.5 1079.0,138.6 1079.1,99.1 1079.2,43.0 1080.9,43.0 1081.0,78.2 1081.2,135.2 1081.5,161.1 1081.8,135.2 1081.9,78.2 1082.0,43.0 1083.6,43.0 1083.7,96.4 1083.8,137.9 1084.2,156.8 1084.6,137.9 1084.7,96.4 1084.8,43.0 1086.5,43.0 1086.6,76.6 1086.7,132.6 1086.9,158.1 1087.2,132.6 1087.2,76.6 1087.3,43.0 1089.0,43.0 1089.1,111.3 1089.2,142.2 1089.6,156.3 1090.0,142.2 1090.2,111.3 1090.3,43.0 1091.8,43.0 1091.9,91.3 1092.0,132.8 1092.3,151.6 1092.7,132.8 1092.8,91.3 1092.9,43.0 1094.6,43.0 1094.7,74.9 1094.8,127.2 1095.1,151.0 1095.3,127.2 1095.4,74.9 1095.5,43.0 1097.2,43.0 1097.3,72.5 1097.4,124.8 1097.8,148.6 1098.1,124.8 1098.3,72.5 1098.4,43.0 1100.0,43.0 1100.1,65.3 1100.2,123.5 1100.5,150.0 1100.8,123.5 1100.9,65.3 1101.0,43.0 1102.7,43.0 1102.8,63.2 1102.9,121.8 1103.2,148.4 1103.5,121.8 1103.6,63.2 1103.7,43.0 1105.4,43.0 1105.5,79.5 1105.6,126.6 1105.9,148.1 1106.2,126.6 1106.4,79.5 1106.5,43.0 1108.2,43.0 1108.3,96.6 1108.4,132.1 1108.7,148.3 1108.9,132.1 1109.0,96.6 1109.1,43.0 1110.8,43.0 1110.9,67.6 1111.1,122.2 1111.4,147.0 1111.7,122.2 1111.8,67.6 1111.9,43.0 1113.6,43.0 1113.7,97.9 1113.8,134.6 1114.1,151.3 1114.3,134.6 1114.5,97.9 1114.6,43.0 1116.4,43.0 1116.5,91.0 1116.5,129.5 1116.8,146.9 1117.1,129.5 1117.1,91.0 1117.2,43.0 1119.1,43.0 1119.2,59.5 1119.3,120.3 1119.5,148.0 1119.8,120.3 1119.9,59.5 1120.0,43.0 1121.7,43.0 1121.8,57.7 1121.9,118.8 1122.2,146.6 1122.5,118.8 1122.6,57.7 1122.7,43.0 1124.4,43.0 1124.5,97.6 1124.6,131.7 1125.0,147.2 1125.3,131.7 1125.4,97.6 1125.5,43.0 1127.1,43.0 1127.2,72.5 1127.3,124.7 1127.7,148.4 1128.0,124.7 1128.2,72.5 1128.3,43.0 1129.8,43.0 1129.9,83.9 1130.1,127.2 1130.4,146.9 1130.7,127.2 1130.8,83.9 1130.9,43.0 1132.5,43.0 1132.6,85.8 1132.7,129.5 1133.1,149.4 1133.5,129.5 1133.6,85.8 1133.7,43.0 1135.2,43.0 1135.3,67.7 1135.5,124.7 1135.8,150.6 1136.2,124.7 1136.3,67.7 1136.4,43.0 1138.0,43.0 1138.1,98.7 1138.2,132.5 1138.5,147.9 1138.9,132.5 1139.0,98.7 1139.1,43.0 1140.8,43.0 1140.9,86.0 1141.0,129.8 1141.2,149.8 1141.5,129.8 1141.6,86.0 1141.7,43.0 1143.3,43.0 1143.4,97.1 1143.6,133.5 1144.0,150.1 1144.4,133.5 1144.5,97.1 1144.6,43.0 1146.0,43.0 1146.1,102.4 1146.3,134.4 1146.7,148.9 1147.1,134.4 1147.2,102.4 1147.3,43.0 1148.9,43.0 1149.0,102.3 1149.1,136.2 1149.4,151.6 1149.7,136.2 1149.8,102.3 1149.9,43.0 1151.5,43.0 1151.6,67.1 1151.8,123.5 1152.1,149.1 1152.5,123.5 1152.6,67.1 1152.7,43.0 1154.3,43.0 1154.4,84.9 1154.5,127.8 1154.8,147.3 1155.2,127.8 1155.3,84.9 1155.4,43.0 1157.1,43.0 1157.2,91.0 1157.3,130.3 1157.5,148.1 1157.8,130.3 1157.9,91.0 1158.0,43.0 1159.7,43.0 1159.8,87.9 1159.9,129.6 1160.3,148.5 1160.6,129.6 1160.8,87.9 1160.9,43.0 1162.4,43.0 1162.5,97.0 1162.7,134.6 1163.0,151.6 1163.3,134.6 1163.4,97.0 1163.5,43.0 1165.1,43.0 1165.2,65.7 1165.3,121.4 1165.7,146.8 1166.1,121.4 1166.2,65.7 1166.3,43.0 1167.8,43.0 1167.9,86.7 1168.0,128.4 1168.4,147.4 1168.8,128.4 1169.0,86.7 1169.1,43.0 1170.6,43.0 1170.7,79.4 1170.9,127.1 1171.1,148.8 1171.4,127.1 1171.5,79.4 1171.6,43.0 1173.4,43.0 1173.5,89.5 1173.6,131.8 1173.8,151.1 1174.1,131.8 1174.2,89.5 1174.3,43.0 1176.0,43.0 1176.1,88.6 1176.2,128.1 1176.6,146.0 1176.9,128.1 1177.1,88.6 1177.2,43.0 1178.7,43.0 1178.8,74.2 1178.9,125.3 1179.3,148.6 1179.6,125.3 1179.8,74.2 1179.9,43.0 1181.4,43.0 1181.5,61.0 1181.6,119.7 1182.0,146.3 1182.4,119.7 1182.5,61.0 1182.6,43.0 1185.0,43.0 1185.0,254.0 1183.5,254.0 1183.4,185.0 1183.1,162.7 1182.7,185.0 1182.7,254.0 1181.0,254.0 1180.9,182.7 1180.4,160.2 1179.8,182.7 1179.8,254.0 1178.1,254.0 1178.0,178.3 1177.7,159.5 1177.3,178.3 1177.2,254.0 1175.4,254.0 1175.4,175.4 1174.9,159.5 1174.5,175.4 1174.4,254.0 1172.8,254.0 1172.7,176.3 1172.2,158.8 1171.7,176.3 1171.6,254.0 1170.1,254.0 1170.0,184.0 1169.5,161.8 1169.0,184.0 1168.9,254.0 1167.3,254.0 1167.2,181.4 1166.8,161.8 1166.4,181.4 1166.3,254.0 1164.6,254.0 1164.5,178.9 1164.1,162.8 1163.7,178.9 1163.6,254.0 1161.8,254.0 1161.7,181.0 1161.4,159.6 1161.0,181.0 1160.9,254.0 1159.0,254.0 1158.9,178.6 1158.6,160.4 1158.3,178.6 1158.2,254.0 1156.3,254.0 1156.3,186.4 1155.9,162.6 1155.6,186.4 1155.5,254.0 1153.7,254.0 1153.6,184.6 1153.2,161.1 1152.8,184.6 1152.7,254.0 1151.0,254.0 1150.9,182.6 1150.5,161.4 1150.0,182.6 1150.0,254.0 1148.2,254.0 1148.1,183.1 1147.8,161.3 1147.4,183.1 1147.3,254.0 1145.6,254.0 1145.6,179.8 1145.1,161.9 1144.5,179.8 1144.5,254.0 1142.9,254.0 1142.8,178.8 1142.3,160.7 1141.9,178.8 1141.8,254.0 1140.2,254.0 1140.1,181.6 1139.6,160.5 1139.1,181.6 1139.0,254.0 1137.4,254.0 1137.4,180.6 1136.9,162.1 1136.4,180.6 1136.4,254.0 1134.8,254.0 1134.7,182.2 1134.2,159.4 1133.7,182.2 1133.6,254.0 1132.1,254.0 1132.0,180.7 1131.5,162.4 1130.9,180.7 1130.9,254.0 1129.3,254.0 1129.2,179.6 1128.8,161.0 1128.3,179.6 1128.2,254.0 1126.5,254.0 1126.4,173.6 1126.0,159.2 1125.6,173.6 1125.6,254.0 1123.9,254.0 1123.8,181.1 1123.3,162.8 1122.8,181.1 1122.8,254.0 1121.0,254.0 1120.9,186.0 1120.6,162.4 1120.3,186.0 1120.2,254.0 1118.4,254.0 1118.3,175.6 1117.9,160.0 1117.4,175.6 1117.4,254.0 1115.7,254.0 1115.7,182.2 1115.2,159.8 1114.7,182.2 1114.6,254.0 1112.9,254.0 1112.8,180.1 1112.5,161.5 1112.1,180.1 1112.0,254.0 1110.3,254.0 1110.2,184.5 1109.7,163.1 1109.3,184.5 1109.2,254.0 1107.6,254.0 1107.5,183.5 1107.0,163.0 1106.5,183.5 1106.4,254.0 1104.8,254.0 1104.7,184.8 1104.3,162.0 1103.9,184.8 1103.8,254.0 1102.2,254.0 1102.1,174.2 1101.6,159.9 1101.1,174.2 1101.0,254.0 1099.4,254.0 1099.3,182.1 1098.9,164.6 1098.4,182.1 1098.3,254.0 1096.6,254.0 1096.5,184.1 1096.2,163.7 1095.8,184.1 1095.7,254.0 1093.9,254.0 1093.8,190.2 1093.4,166.8 1093.1,190.2 1093.0,254.0 1091.2,254.0 1091.2,187.7 1090.7,165.8 1090.3,187.7 1090.2,254.0 1088.4,254.0 1088.3,180.9 1088.0,164.9 1087.7,180.9 1087.6,254.0 1085.8,254.0 1085.7,185.3 1085.3,169.2 1084.8,185.3 1084.8,254.0 1083.0,254.0 1082.9,187.8 1082.6,169.7 1082.3,187.8 1082.2,254.0 1080.3,254.0 1080.3,188.5 1079.9,171.3 1079.5,188.5 1079.4,254.0 1077.6,254.0 1077.5,187.3 1077.1,169.1 1076.7,187.3 1076.7,254.0 1075.0,254.0 1074.9,190.5 1074.4,173.6 1074.0,190.5 1073.9,254.0 1072.1,254.0 1072.0,185.1 1071.7,170.7 1071.4,185.1 1071.3,254.0 1069.4,254.0 1069.3,198.4 1069.0,175.7 1068.7,198.4 1068.6,254.0 1066.7,254.0 1066.6,195.5 1066.3,175.6 1065.9,195.5 1065.9,254.0 1063.9,254.0 1063.9,187.3 1063.6,172.8 1063.2,187.3 1063.2,254.0 1061.3,254.0 1061.2,192.5 1060.8,178.3 1060.5,192.5 1060.4,254.0 1058.6,254.0 1058.6,195.1 1058.1,178.0 1057.7,195.1 1057.6,254.0 1055.9,254.0 1055.8,202.7 1055.4,180.3 1055.0,202.7 1054.9,254.0 1053.1,254.0 1053.1,200.3 1052.7,177.2 1052.3,200.3 1052.2,254.0 1050.5,254.0 1050.5,201.0 1050.0,177.5 1049.5,201.0 1049.4,254.0 1047.9,254.0 1047.8,196.9 1047.3,180.8 1046.7,196.9 1046.6,254.0 1045.1,254.0 1045.0,197.5 1044.5,179.2 1044.1,197.5 1044.0,254.0 1042.3,254.0 1042.2,199.9 1041.8,178.4 1041.4,199.9 1041.4,254.0 1039.7,254.0 1039.6,200.1 1039.1,181.6 1038.6,200.1 1038.5,254.0 1037.0,254.0 1036.9,205.9 1036.4,184.7 1035.9,205.9 1035.8,254.0 1034.3,254.0 1034.2,199.6 1033.7,183.9 1033.2,199.6 1033.1,254.0 1031.6,254.0 1031.5,199.4 1031.0,184.0 1030.4,199.4 1030.3,254.0 1028.7,254.0 1028.6,200.8 1028.2,184.5 1027.8,200.8 1027.8,254.0 1026.1,254.0 1026.1,205.9 1025.5,184.5 1025.0,205.9 1024.9,254.0 1023.2,254.0 1023.1,203.9 1022.8,183.4 1022.5,203.9 1022.4,254.0 1020.5,254.0 1020.4,203.0 1020.1,182.6 1019.8,203.0 1019.7,254.0 1017.9,254.0 1017.8,201.5 1017.4,182.7 1016.9,201.5 1016.8,254.0 1015.1,254.0 1015.0,201.0 1014.7,183.4 1014.3,201.0 1014.2,254.0 1012.4,254.0 1012.3,202.8 1011.9,186.5 1011.6,202.8 1011.5,254.0 1009.6,254.0 1009.5,194.7 1009.2,179.2 1008.9,194.7 1008.8,254.0 1007.0,254.0 1007.0,199.3 1006.5,175.5 1006.0,199.3 1006.0,254.0 1004.3,254.0 1004.2,194.3 1003.8,178.5 1003.4,194.3 1003.3,254.0 1001.7,254.0 1001.6,192.9 1001.1,176.2 1000.6,192.9 1000.5,254.0 998.9,254.0 998.8,199.9 998.4,177.1 997.9,199.9 997.8,254.0 996.1,254.0 996.0,197.7 995.6,178.4 995.3,197.7 995.2,254.0 993.3,254.0 993.3,198.1 992.9,174.7 992.6,198.1 992.5,254.0 990.6,254.0 990.6,195.7 990.2,179.1 989.8,195.7 989.8,254.0 988.1,254.0 988.0,191.2 987.5,174.4 987.0,191.2 986.9,254.0 985.4,254.0 985.3,197.7 984.8,174.4 984.3,197.7 984.2,254.0 982.5,254.0 982.4,202.0 982.1,178.2 981.7,202.0 981.6,254.0 980.0,254.0 979.9,190.9 979.3,175.5 978.8,190.9 978.7,254.0 977.2,254.0 977.1,195.4 976.6,173.7 976.1,195.4 976.1,254.0 974.3,254.0 974.2,194.1 973.9,175.7 973.6,194.1 973.5,254.0 971.7,254.0 971.6,193.5 971.2,177.7 970.8,193.5 970.7,254.0 968.9,254.0 968.8,190.7 968.5,170.5 968.2,190.7 968.1,254.0 966.2,254.0 966.2,184.7 965.8,164.8 965.3,184.7 965.3,254.0 963.6,254.0 963.6,178.4 963.0,163.2 962.5,178.4 962.4,254.0 960.9,254.0 960.8,187.5 960.3,164.5 959.8,187.5 959.8,254.0 958.0,254.0 958.0,182.1 957.6,164.1 957.2,182.1 957.2,254.0 955.5,254.0 955.4,180.2 954.9,164.0 954.4,180.2 954.3,254.0 952.8,254.0 952.7,181.2 952.2,163.3 951.6,181.2 951.6,254.0 949.9,254.0 949.8,184.1 949.5,168.8 949.1,184.1 949.0,254.0 947.3,254.0 947.2,188.0 946.7,164.7 946.3,188.0 946.2,254.0 944.4,254.0 944.4,188.7 944.0,168.5 943.7,188.7 943.6,254.0 941.8,254.0 941.7,183.9 941.3,168.3 940.9,183.9 940.8,254.0 939.0,254.0 938.9,187.2 938.6,164.2 938.3,187.2 938.2,254.0 936.5,254.0 936.4,189.5 935.9,165.5 935.3,189.5 935.3,254.0 933.6,254.0 933.5,188.2 933.2,164.7 932.8,188.2 932.7,254.0 931.0,254.0 930.9,181.2 930.4,166.3 930.0,181.2 929.9,254.0 928.3,254.0 928.2,183.7 927.7,164.2 927.2,183.7 927.1,254.0 925.4,254.0 925.3,181.5 925.0,164.2 924.7,181.5 924.6,254.0 922.7,254.0 922.6,181.3 922.3,165.2 921.9,181.3 921.9,254.0 920.2,254.0 920.1,182.7 919.6,167.7 919.0,182.7 918.9,254.0 917.5,254.0 917.4,184.2 916.9,166.5 916.3,184.2 916.2,254.0 914.5,254.0 914.5,185.4 914.1,168.5 913.8,185.4 913.7,254.0 912.1,254.0 912.0,181.9 911.4,166.9 910.9,181.9 910.8,254.0 909.2,254.0 909.1,188.9 908.7,165.0 908.3,188.9 908.2,254.0 906.4,254.0 906.4,180.6 906.0,164.2 905.6,180.6 905.5,254.0 903.9,254.0 903.8,180.7 903.3,163.7 902.7,180.7 902.7,254.0 901.1,254.0 901.0,186.2 900.6,165.5 900.1,186.2 900.0,254.0 898.2,254.0 898.2,182.5 897.8,163.5 897.5,182.5 897.4,254.0 895.6,254.0 895.5,190.1 895.1,166.3 894.7,190.1 894.7,254.0 892.8,254.0 892.8,185.0 892.4,163.5 892.0,185.0 892.0,254.0 890.2,254.0 890.1,184.9 889.7,167.6 889.2,184.9 889.1,254.0 887.6,254.0 887.5,181.8 887.0,166.0 886.4,181.8 886.4,254.0 884.9,254.0 884.8,189.4 884.3,165.9 883.7,189.4 883.6,254.0 882.2,254.0 882.1,187.9 881.5,167.5 881.0,187.9 880.9,254.0 879.3,254.0 879.2,187.9 878.8,166.7 878.4,187.9 878.4,254.0 876.7,254.0 876.6,187.5 876.1,164.5 875.6,187.5 875.5,254.0 874.0,254.0 873.9,182.3 873.4,167.9 872.9,182.3 872.8,254.0 871.1,254.0 871.0,186.2 870.7,168.5 870.3,186.2 870.2,254.0 868.5,254.0 868.5,186.3 868.0,167.9 867.4,186.3 867.4,254.0 865.9,254.0 865.8,180.3 865.2,165.1 864.7,180.3 864.6,254.0 863.0,254.0 862.9,182.6 862.5,165.3 862.1,182.6 862.0,254.0 860.2,254.0 860.2,188.3 859.8,165.0 859.4,188.3 859.4,254.0 857.7,254.0 857.6,188.2 857.1,165.4 856.6,188.2 856.5,254.0 853.0,254.0" fill="#036868"/>
</g>
<line x1="856" x2="1182" y1="93.5" y2="93.5" stroke="#333" stroke-opacity=".03" stroke-width="1"/>
<line x1="856" x2="1182" y1="145.5" y2="145.5" stroke="#333" stroke-opacity=".03" stroke-width="1"/>
<line x1="856" x2="1182" y1="196.5" y2="196.5" stroke="#333" stroke-opacity=".03" stroke-width="1"/>
<line x1="856" x2="1182" y1="249.5" y2="249.5" stroke="#7f8a8a" stroke-width="1"/>
<line x1="878.4" x2="878.4" y1="250" y2="253" stroke="#9a9aa2" stroke-width="1"/>
<line x1="905.4" x2="905.4" y1="250" y2="253" stroke="#9a9aa2" stroke-width="1"/>
<line x1="932.4" x2="932.4" y1="250" y2="253" stroke="#9a9aa2" stroke-width="1"/>
<line x1="959.4" x2="959.4" y1="250" y2="253" stroke="#9a9aa2" stroke-width="1"/>
<line x1="986.4" x2="986.4" y1="250" y2="253" stroke="#9a9aa2" stroke-width="1"/>
<line x1="1013.4" x2="1013.4" y1="250" y2="253" stroke="#9a9aa2" stroke-width="1"/>
<line x1="1040.4" x2="1040.4" y1="250" y2="253" stroke="#9a9aa2" stroke-width="1"/>
<line x1="1067.4" x2="1067.4" y1="250" y2="253" stroke="#9a9aa2" stroke-width="1"/>
<line x1="1094.4" x2="1094.4" y1="250" y2="253" stroke="#9a9aa2" stroke-width="1"/>
<line x1="1121.4" x2="1121.4" y1="250" y2="253" stroke="#9a9aa2" stroke-width="1"/>
<line x1="1148.4" x2="1148.4" y1="250" y2="253" stroke="#9a9aa2" stroke-width="1"/>
<line x1="1175.4" x2="1175.4" y1="250" y2="253" stroke="#9a9aa2" stroke-width="1"/>
</svg>
<div class="ylab" style="left:790.4px;top:87.0px">3000.00</div>
<div class="ylab" style="left:790.4px;top:139.0px">2000.00</div>
<div class="ylab" style="left:790.4px;top:190.1px">1000.00</div>
<div class="ylab" style="left:790.4px;top:241.9px">9.67</div>
<div class="xlab" style="left:858.4px;top:254.3px">14:25</div>
<div class="xlab" style="left:885.4px;top:254.3px">14:30</div>
<div class="xlab" style="left:912.4px;top:254.3px">14:35</div>
<div class="xlab" style="left:939.4px;top:254.3px">14:40</div>
<div class="xlab" style="left:966.4px;top:254.3px">14:45</div>
<div class="xlab" style="left:993.4px;top:254.3px">14:50</div>
<div class="xlab" style="left:1020.4px;top:254.3px">14:55</div>
<div class="xlab" style="left:1047.4px;top:254.3px">15:00</div>
<div class="xlab" style="left:1074.4px;top:254.3px">15:05</div>
<div class="xlab" style="left:1101.4px;top:254.3px">15:10</div>
<div class="xlab" style="left:1128.4px;top:254.3px">15:15</div>
<div class="xlab" style="left:1155.4px;top:254.3px">15:20</div>
<div class="hour" style="left:818px;top:255.0px">Hour</div>
<!--/CHART2-->
  <!-- tabs pill -->
  <div class="abs" style="left:447px;top:68px;width:691px;height:26px;background:#fff;border-radius:13px;box-shadow:0 1px 3px rgba(30,40,70,.22),0 0 1px rgba(30,40,70,.18);z-index:3"></div>
  <div class="abs" style="left:448px;top:69px;width:180px;height:24px;background:#1fa36e;border-radius:12px;box-shadow:1px 1px 3px rgba(0,0,0,.18);z-index:3"></div>
  <div class="t tab" style="left:448px;width:180px;color:#fff;font-weight:bold">Overview</div>
  <div class="t tab" style="left:630px;width:100px">Details</div>
  <div class="t tab" style="left:733px;width:100px">Billing</div>
  <div class="t tab" style="left:848px;width:120px">Savings Report</div>
  <div class="t tab" style="left:1000px;width:120px;letter-spacing:.18px">Metrics Insights</div>

  <!-- Agents Deployed -->
  <div class="ttl" style="left:360px;top:345px;letter-spacing:.15px">Agents Deployed</div>
  <svg class="abs info" style="left:583px;top:346px" width="14" height="14" viewBox="0 0 14 14"><circle cx="7" cy="7" r="6" fill="none" stroke="#b5c1e6" stroke-width="1"/><text x="7" y="10.500" text-anchor="middle" font-family="Liberation Serif,serif" font-style="italic" font-weight="bold" font-size="10.500" fill="#9fb0e2">i</text></svg>
  <div class="tbox" style="left:360px;top:394px"></div>
  <div class="abs" style="left:374px;top:408px;width:36px;height:36px;border-radius:6px;background:#e9f1f1;border:1px solid #e0eaea"></div>
  <svg class="abs" style="left:382px;top:415px" width="20" height="22" viewBox="0 0 16 17"><path d="M2 10V7.600a6 6 0 0 1 12 0V10" fill="none" stroke="#0b5f5f" stroke-width="1.800"/><rect x="1.100" y="7.200" width="4" height="6" rx="1.700" fill="#0b5f5f"/><rect x="10.900" y="7.200" width="4" height="6" rx="1.700" fill="#0b5f5f"/><path d="M13.300 12.500c0 2-1.300 3.200-4 3.200" fill="none" stroke="#0b5f5f" stroke-width="1.400" stroke-linecap="round"/><circle cx="8.800" cy="15.600" r="1.100" fill="#0b5f5f"/></svg>
  <div class="t" style="left:423px;top:420px;font-size:15px;font-weight:bold;color:#14143a;letter-spacing:.2px">Total Agents</div>
  <div class="t" style="left:554.500px;top:416px;font-size:25px;font-weight:bold;color:#0b3b2c">35</div>
  <div class="abs" style="left:360px;top:473px;width:13px;height:13px;background:#22c05a;border-radius:2px"></div>
  <div class="abs" style="left:377px;top:473px;width:220px;height:13px;background:#e0403b;border-radius:2px"></div>
  <div class="pill" style="left:360px;top:502px;width:73px;height:25px"><i style="background:#22c05a"></i><span style="letter-spacing:-.1px">Active</span></div>
  <div class="ln" style="left:446px;top:513px;width:131px"></div>
  <div class="val" style="left:557px;top:506px">2</div>
  <div class="pill" style="left:360px;top:543px;width:146px"><i style="background:#e0403b"></i><span>Inactive/Unhealthy</span></div>
  <div class="ln" style="left:519px;top:554px;width:50px"></div>
  <div class="val" style="left:557px;top:547px">33</div>
  <div class="lnk" style="left:512px;top:728px;letter-spacing:-.1px">View Agents Details</div>

  <!-- Scheduled Events -->
  <div class="ttl" style="left:655px;top:345px">Scheduled Events</div>
  <svg class="abs info" style="left:878px;top:346px" width="14" height="14" viewBox="0 0 14 14"><circle cx="7" cy="7" r="6" fill="none" stroke="#b5c1e6" stroke-width="1"/><text x="7" y="10.500" text-anchor="middle" font-family="Liberation Serif,serif" font-style="italic" font-weight="bold" font-size="10.500" fill="#9fb0e2">i</text></svg>
  <div class="tbox" style="left:655px;top:394px"></div>
  <div class="abs" style="left:669px;top:408px;width:36px;height:36px;border-radius:7px;background:#1fa36e"></div>
  <svg class="abs" style="left:677px;top:416px" width="20" height="20" viewBox="0 0 20 20"><rect x="1" y="2" width="6.500" height="6.500" rx="1" fill="#fff"/><rect x="10" y="2.600" width="8.400" height="5.300" rx="1" fill="none" stroke="#fff" stroke-width="1.400"/><rect x="1" y="10" width="10.500" height="8.500" rx="1" fill="#fff"/><rect x="13" y="10" width="6" height="6.500" rx="1" fill="#fff"/></svg>
  <div class="t" style="left:718px;top:420px;font-size:15px;font-weight:bold;color:#14143a">Total Events</div>
  <div class="t" style="left:863.500px;top:416px;font-size:25px;font-weight:bold;color:#0b3b2c">0</div>
  <div class="abs" style="left:655px;top:473px;width:237px;height:13px;background:#ebebeb;border-radius:2px"></div>
  <div class="pill" style="left:655px;top:502px;width:93px;height:41px"><i style="background:#22c05a;top:15px"></i><span style="line-height:16px;top:4px;white-space:normal;width:60px">In Progress</span></div>
  <div class="ln" style="left:761px;top:521px;width:110px"></div>
  <div class="val" style="left:852px;top:514px">0</div>
  <div class="pill" style="left:655px;top:559px;width:98px"><i style="background:#e0403b"></i><span>Scheduled</span></div>
  <div class="ln" style="left:766px;top:570px;width:105px"></div>
  <div class="val" style="left:852px;top:563px">0</div>
  <div class="lnk" style="left:831px;top:728px;letter-spacing:-.25px">View All Events</div>

  <!-- Service Error rates -->
  <div class="ttl" style="left:950px;top:345px;letter-spacing:-.07px">Service Error rates</div>
  <svg class="abs info" style="left:1173px;top:346px" width="14" height="14" viewBox="0 0 14 14"><circle cx="7" cy="7" r="6" fill="none" stroke="#b5c1e6" stroke-width="1"/><text x="7" y="10.500" text-anchor="middle" font-family="Liberation Serif,serif" font-style="italic" font-weight="bold" font-size="10.500" fill="#9fb0e2">i</text></svg>
  <div class="abs" id="svc" style="left:950px;top:372px;width:222px;height:341px;overflow:hidden">
    <div class="si" style="top:0px"><div class="sn" style="top:28px">cartservice</div><div class="sd" style="top:44px">demo</div>
      <div class="bd" style="left:147px;top:10px;width:63px"><b class="g" style="left:6px">12%</b><span style="right:6px">CPU</span></div>
      <div class="bd" style="left:165px;top:47px;width:45px"><svg style="position:absolute;left:6px;top:9px" width="11" height="11" viewBox="0 0 11 11"><path d="M5.500 1.200L10.200 9.800H.8z" fill="none" stroke="#ef5350" stroke-width="1" stroke-linejoin="round"/><path d="M5.500 4.300v2.900M5.500 8.100v.8" stroke="#ef5350" stroke-width=".9"/></svg><b style="right:6px;top:9px;color:#ef5350">1%</b></div>
    </div>
    <div class="si" style="top:99px"><div class="sn" style="top:20px">recommendation</div><div class="sn" style="top:36px">service</div><div class="sd" style="top:52px">demo</div>
      <div class="bd" style="left:147px;top:10px;width:63px"><b class="g" style="left:6px">12%</b><span style="right:6px">CPU</span></div>
      <div class="bd" style="left:161px;top:47px;width:49px"><svg style="position:absolute;left:6px;top:9px" width="11" height="11" viewBox="0 0 11 11"><path d="M5.500 1.200L10.200 9.800H.8z" fill="none" stroke="#ef5350" stroke-width="1" stroke-linejoin="round"/><path d="M5.500 4.300v2.900M5.500 8.100v.8" stroke="#ef5350" stroke-width=".9"/></svg><b style="right:6px;top:9px;color:#22b573">0%</b></div>
    </div>
    <div class="si" style="top:198px"><div class="sn" style="top:28px">frontend</div><div class="sd" style="top:44px">demo</div>
      <div class="bd" style="left:149px;top:10px;width:61px"><b class="g" style="left:6px">8%</b><span style="right:6px">CPU</span></div>
      <div class="bd" style="left:160px;top:47px;width:50px"><svg style="position:absolute;left:6px;top:9px" width="11" height="11" viewBox="0 0 11 11"><path d="M5.500 1.200L10.200 9.800H.8z" fill="none" stroke="#ef5350" stroke-width="1" stroke-linejoin="round"/><path d="M5.500 4.300v2.900M5.500 8.100v.8" stroke="#ef5350" stroke-width=".9"/></svg><b style="right:6px;top:9px;color:#22b573">0%</b></div>
    </div>
    <div class="si" style="top:297px"><div class="sn" style="top:20px">productcatalogs</div><div class="sn" style="top:36px">ervice</div><div class="sd" style="top:52px">demo</div>
      <div class="bd" style="left:149px;top:10px;width:61px"><b class="g" style="left:6px">8%</b><span style="right:6px">CPU</span></div>
      <div class="bd" style="left:160px;top:47px;width:50px"><svg style="position:absolute;left:6px;top:9px" width="11" height="11" viewBox="0 0 11 11"><path d="M5.500 1.200L10.200 9.800H.8z" fill="none" stroke="#ef5350" stroke-width="1" stroke-linejoin="round"/><path d="M5.500 4.300v2.900M5.500 8.100v.8" stroke="#ef5350" stroke-width=".9"/></svg><b style="right:6px;top:9px;color:#22b573">0%</b></div>
    </div>
  </div>
  <!-- inner scrollbar -->
  <div class="abs" style="left:1190px;top:373px;width:16px;height:340px;background:#fafafa"></div>
  <svg class="abs" style="left:1190px;top:373px" width="16" height="340" viewBox="0 0 16 340"><path d="M8.500 4.300l4.200 6.200h-8.400z" fill="#858585" stroke="#858585" stroke-width=".8" stroke-linejoin="round"/><rect x="4" y="17" width="9" height="131" rx="4.500" fill="#8a8a8a"/><path d="M8.500 335.700l4.200-6.200h-8.400z" fill="#858585" stroke="#858585" stroke-width=".8" stroke-linejoin="round"/></svg>
  <div class="lnk" style="left:1138px;top:728px;letter-spacing:-.1px">View Details</div>

</div>


<!-- page scrollbar -->
<div class="abs" style="left:1351px;top:49px;width:15px;height:719px;background:#fafafa;z-index:7"></div>
<svg class="abs" style="left:1351px;top:49px;z-index:8" width="15" height="719" viewBox="0 0 15 719"><path d="M7.600 5.300l4.200 6.100h-8.400z" fill="#858585" stroke="#858585" stroke-width=".8" stroke-linejoin="round"/><rect x="3" y="264" width="9" height="437" rx="4.500" fill="#8b8b8b"/><path d="M7.600 714.700l4.200-6.100h-8.400z" fill="#858585" stroke="#858585" stroke-width=".8" stroke-linejoin="round"/></svg>
<!-- chat bot -->
<div class="abs" style="left:1270px;top:708px;width:52px;height:52px;border-radius:26px;background:#fff;border:4px solid #a7a8ac;z-index:8"></div>
<svg class="abs" style="left:1283px;top:719px;z-index:9" width="26" height="28" viewBox="0 0 26 28"><path d="M13 1.500a11.500 11.500 0 0 0-10.200 16.800c.6 1.400.3 4.500-1.500 8.200 3.500-.4 5.800-1.600 7.200-2.800a11.500 11.500 0 1 0 4.500-22.200z" fill="#45cfc9"/><circle cx="12.500" cy="4.800" r="1" fill="#fff"/><rect x="5.200" y="8" width="15.600" height="10.500" rx="5" fill="#fff"/><rect x="6.600" y="10" width="12.800" height="5" rx="2.500" fill="#10141c"/><rect x="8.200" y="11.300" width="3.800" height="2.300" rx=".8" fill="#17b6c9"/><rect x="14" y="11.300" width="3.800" height="2.300" rx=".8" fill="#17b6c9"/><path d="M8.500 20.500c0-1.500 1.500-2.300 4.500-2.300s4.500.8 4.500 2.300v2.700c-1.300.8-2.800 1.200-4.500 1.200s-3.200-.4-4.500-1.200z" fill="#f1f3f4"/><path d="M17 21.500c2-.5 3.500-2 4.200-4" stroke="#eaf7f7" stroke-width="1.600" fill="none" stroke-linecap="round"/><circle cx="11.800" cy="16.700" r=".5" fill="#333"/><circle cx="14.200" cy="16.700" r=".5" fill="#333"/></svg>

<!-- HEADER -->
<div id="hdr">
  <!-- cluster button -->
  <div class="abs" style="left:19px;top:7px;width:85px;height:33px;background:#f7f9fc;border:1px solid #d3dce8;border-radius:4px"></div>
  <svg class="abs" style="left:32px;top:15px" width="17" height="18" viewBox="0 0 17 18"><rect x="1" y="1" width="8" height="16" fill="#8fd9b3"/><rect x="10" y="7" width="6" height="10" fill="#8fd9b3"/><g fill="#fff"><rect x="2.600" y="2.800" width="1.800" height="2.200"/><rect x="5.600" y="2.800" width="1.800" height="2.200"/><rect x="2.600" y="6.400" width="1.800" height="2.200"/><rect x="5.600" y="6.400" width="1.800" height="2.200"/><rect x="2.600" y="10" width="1.800" height="2.200"/><rect x="5.600" y="10" width="1.800" height="2.200"/><rect x="4" y="13.600" width="2" height="3.400"/><rect x="12" y="9" width="2" height="1.800"/><rect x="12" y="12" width="2" height="1.800"/><rect x="12" y="15" width="2" height="1.400"/></g></svg>
  <div class="t" style="left:55px;top:17px;font-size:13px;color:#5d5d73">apollo</div>
  <div class="t" style="left:113px;top:15px;font-size:16px;color:#5d5d73">/</div>
  <div class="t" style="left:129px;top:17px;font-size:13px;color:#5d5d73;letter-spacing:-.15px">Dashboard</div>
  <!-- divider -->
  <div class="abs" style="left:1003px;top:6px;width:1px;height:35px;background:#d5dfe9"></div>
  <!-- bell -->
  <div class="abs" style="left:1081px;top:6px;width:39px;height:39px;background:#f7f8fc;border-radius:4px"></div>
  <svg class="abs" style="left:1092px;top:16px" width="18" height="18" viewBox="0 0 18 18" fill="#aaabd9"><path d="M8.600 1.300c-3 0-4.700 2.100-4.700 5.100v3.400c0 .9-.4 1.500-1.200 1.800l-1.400.5c-.9.400-.7 1.800.3 1.800h14c1 0 1.200-1.400.3-1.800l-1.400-.5c-.8-.3-1.200-.9-1.200-1.800V6.400c0-3-1.700-5.100-4.700-5.100z"/><path d="M6.600 14.900h4c0 1.500-.8 2.600-2 2.600s-2-1.100-2-2.600z"/></svg>
  <div class="abs" style="left:1106px;top:10px;width:13px;height:13px;border-radius:7px;background:#e23b3b"></div>
  <div class="t" style="left:1105.500px;top:12px;width:14px;text-align:center;font-size:9px;font-weight:bold;color:#fff;letter-spacing:-.6px">11</div>
  <!-- user -->
  <div class="abs" style="left:1128px;top:5px;width:38px;height:38px;background:#f7f8fc;border-radius:4px"></div>
  <svg class="abs" style="left:1137px;top:14px" width="20" height="19" viewBox="0 0 20 19" fill="#aaabd9"><circle cx="10" cy="6" r="5"/><path d="M1.200 18c1-5 4-7.500 8.800-7.500s7.800 2.500 8.800 7.500z"/></svg>
</div>

<!-- SIDEBAR -->
<div id="side">
  <!-- logo -->
  <svg class="abs" style="left:19px;top:12px" width="30" height="30" viewBox="0 0 30 30">
    <path d="M14.500 7l8 8-8 8-8-8z" fill="#b9dcf4"/>
    <path d="M14.500 7l8 8h-8zM14.500 23l8-8h-8z" fill="#8cc4ec" opacity=".75"/>
    <g fill="none" stroke-width="1.700" stroke-linecap="round" stroke-linejoin="round">
      <path d="M14.500 1.800V11.500M10 6.400l4.500-4.600 4.500 4.600" stroke="#3f5bb0"/>
      <path d="M14.500 28.400V18.500M10 23.800l4.500 4.600 4.500-4.600" stroke="#3f5bb0"/>
      <path d="M1 15H11M5.600 10.500L1 15l4.600 4.500" stroke="#63c79c"/>
      <path d="M28.200 15H18M23.600 10.500l4.600 4.500-4.600 4.500" stroke="#5aa9e2"/>
    </g>
    <circle cx="14.500" cy="15" r="2.900" fill="#fff"/>
  </svg>
  <div class="t" style="left:55px;top:18px;font-size:16.500px;font-weight:bold;letter-spacing:0;color:#3f5bb0;-webkit-text-stroke:.35px #3f5bb0">Smart<span style="color:#5cc49c;-webkit-text-stroke:.35px #5cc49c">Scaler</span></div>

  <!-- collapse toggle -->
  <div class="abs" style="left:155px;top:48px;width:26px;height:26px;background:#f4f5f8;border:1px solid #cfdbe6;border-right:none;border-radius:4px 0 0 4px;box-shadow:-1px 0 3px rgba(0,0,0,.06)"></div>
  <svg class="abs" style="left:163px;top:53px" width="12" height="16" viewBox="0 0 12 16"><path d="M9.300 2.100L2.800 8.200l6.500 6.100" fill="none" stroke="#1fa36e" stroke-width="1.600" stroke-linecap="round" stroke-linejoin="round"/></svg>

  <!-- active bar -->
  <div class="abs" style="left:0;top:80px;width:4px;height:45px;background:#1fa36e"></div>

  <!-- icons -->
  <svg class="abs" style="left:23px;top:95px" width="14" height="14" viewBox="0 0 14 14"><path d="M6.300 1.200A6.300 6.300 0 1 0 12.800 7.700H6.300z" fill="#1fa36e"/><path d="M7.900 .9a5.200 5.200 0 0 1 5.200 5.200H7.900z" fill="none" stroke="#1fa36e" stroke-width="1.300" stroke-linejoin="round"/></svg>
  <svg class="abs" style="left:22px;top:139px" width="16" height="16" viewBox="0 0 16 16" fill="#7b7f8c"><path d="M6.300 1.800c.6 3.700 2 5.100 5.700 5.700-3.700.6-5.100 2-5.700 5.700-.6-3.700-2-5.100-5.700-5.700 3.700-.6 5.100-2 5.700-5.700z"/><path d="M12.200 -.4c.3 1.700.8 2.200 2.500 2.500-1.700.3-2.200.8-2.500 2.500-.3-1.700-.8-2.200-2.500-2.500 1.700-.3 2.200-.8 2.500-2.500zM12.200 10.300c.3 1.700.8 2.200 2.500 2.500-1.700.3-2.200.8-2.500 2.500-.3-1.700-.8-2.200-2.500-2.500 1.700-.3 2.200-.8 2.500-2.500z"/></svg>
  <svg class="abs" style="left:22px;top:184px" width="16" height="16" viewBox="0 0 16 16"><path d="M4.200 1.200v2M11.800 1.200v2" stroke="#7b7f8c" stroke-width="1.600" stroke-linecap="round"/><path d="M1 4.400c0-1 .7-1.700 1.700-1.700h10.600c1 0 1.700.7 1.700 1.700v1.400H1z" fill="#7b7f8c"/><path d="M1 6.900h14v6.300c0 1-.7 1.700-1.700 1.700H2.700c-1 0-1.700-.7-1.700-1.700z" fill="#7b7f8c"/><path d="M4 8.600h3.400v2H4zM8.600 8.600H12v2H8.600zM4 11.500h3.400v1.900H4zM8.600 11.500H12v1.900H8.600z" fill="#fff"/></svg>
  <svg class="abs" style="left:21px;top:229px" width="18" height="16" viewBox="0 0 18 16" fill="#7b7f8c"><path d="M9 .4l3 1.300-3 1.300-3-1.300zM5.700 2.500l2.900 1.300v3.300L5.700 5.800zM12.300 2.500L9.400 3.800v3.300l2.900-1.300z"/><path d="M4.700 8l3 1.300-3 1.300-3-1.300zM1.400 10.100l2.900 1.300v3.300l-2.900-1.300zM8 10.100l-2.900 1.300v3.300L8 13.400z"/><path d="M13.300 8l3 1.300-3 1.300-3-1.300zM10 10.100l2.900 1.300v3.300L10 13.400zM16.600 10.100l-2.900 1.300v3.300l2.900-1.300z"/></svg>
  <svg class="abs" style="left:21px;top:274px" width="18" height="16" viewBox="0 0 18 16" fill="#7b7f8c"><circle cx="9" cy="4.300" r="3"/><path d="M3.600 14.500c0-4 2-6 5.400-6s5.400 2 5.400 6c0 .6-.3.900-.9.900H4.500c-.6 0-.9-.3-.9-.9z"/><circle cx="3.700" cy="4" r="2.100"/><circle cx="14.300" cy="4" r="2.100"/><path d="M.3 11.500c0-3 1.300-4.600 3.700-4.600.6 0 1 .1 1.500.3C4 8.300 3 9.800 2.800 12.300H1.100c-.5 0-.8-.3-.8-.8zM17.700 11.500c0-3-1.300-4.600-3.700-4.600-.6 0-1 .1-1.500.3 1.500 1.100 2.500 2.600 2.700 5.100h1.700c.5 0 .8-.3.8-.8z"/></svg>
  <svg class="abs" style="left:22px;top:318px" width="16" height="17" viewBox="0 0 16 17"><path d="M2 10V7.600a6 6 0 0 1 12 0V10" fill="none" stroke="#7b7f8c" stroke-width="1.700"/><rect x="1.100" y="7.400" width="3.800" height="5.800" rx="1.600" fill="#7b7f8c"/><rect x="11.100" y="7.400" width="3.800" height="5.800" rx="1.600" fill="#7b7f8c"/><path d="M13.300 12.500c0 2-1.300 3.200-4 3.200" fill="none" stroke="#7b7f8c" stroke-width="1.400" stroke-linecap="round"/><circle cx="8.600" cy="15.600" r="1.100" fill="#7b7f8c"/></svg>
  <svg class="abs" style="left:21px;top:362px" width="18" height="18" viewBox="0 0 18 18" fill="#7b7f8c"><path d="M9 .8l2.200 2.600H6.800z"/><path d="M9 4.600l4 1.800-4 1.800-4-1.800zM4.500 7.300l4 1.800v4.700l-4-1.900zM13.500 7.300l-4 1.800v4.700l4-1.900z"/><path d="M.9 16.200l.5-3.300 2.400 2.300zM17.100 16.200l-.5-3.300-2.400 2.300z"/><path d="M2.800 12.400c-.5-1.300-.5-2.600 0-3.800M15.200 12.400c.5-1.300.5-2.600 0-3.800" fill="none" stroke="#7b7f8c" stroke-width=".8"/></svg>
  <svg class="abs" style="left:23px;top:409px" width="14" height="14" viewBox="0 0 14 14"><g fill="#7b7f8c"><circle cx="7" cy="7" r="4.800"/><circle cx="7" cy="2.300" r="2.200"/><circle cx="7" cy="11.700" r="2.200"/><circle cx="2.900" cy="4.600" r="2.200"/><circle cx="11.100" cy="4.600" r="2.200"/><circle cx="2.900" cy="9.400" r="2.200"/><circle cx="11.100" cy="9.400" r="2.200"/></g><circle cx="7" cy="7" r="2.300" fill="#fff"/><circle cx="7" cy="7" r="1" fill="#7b7f8c"/></svg>

  <!-- labels -->
  <div class="nav act" style="top:95px;letter-spacing:.12px">Dashboard</div>
  <div class="nav" style="top:140px">Ask Smart Scaler</div>
  <div class="nav" style="top:185px">Events</div>
  <div class="nav" style="top:230px">Node Scaling</div>
  <div class="nav" style="top:275px">Users</div>
  <div class="nav" style="top:319px">Agents</div>
  <div class="nav" style="top:364px">Smart Sizing</div>
  <div class="nav" style="top:409px">Settings</div>

  <!-- bottom crown -->
  <svg class="abs" style="left:62px;top:715px" width="36" height="28" viewBox="0 0 36 28"><path d="M2.100 4.300L7.200 25.300H24.900z" fill="#66b7f8"/><path d="M33.800 4.300L28.900 25.300H11.200z" fill="#66b7f8"/><path d="M18.300 .9L8.100 25.300H28.400z" fill="#2a5fe3"/><path d="M2.100 4.300L7.200 25.300H24.900z" fill="#66b7f8" opacity=".28"/><path d="M33.800 4.300L28.900 25.300H11.200z" fill="#66b7f8" opacity=".28"/><path d="M18 18.300L11.200 25.300H24.900z" fill="#2a62f0" opacity=".8"/><path d="M11.600 14.200L24.900 25.300M24.800 14.200L11.200 25.300" stroke="#5d9df5" stroke-width=".5" opacity=".8"/></svg>
  <div class="t" style="left:66px;top:745.500px;font-size:8px;font-weight:bold;color:#4a58a6;letter-spacing:-.1px">v2.17.0</div>
</div>

</body>
</html>
